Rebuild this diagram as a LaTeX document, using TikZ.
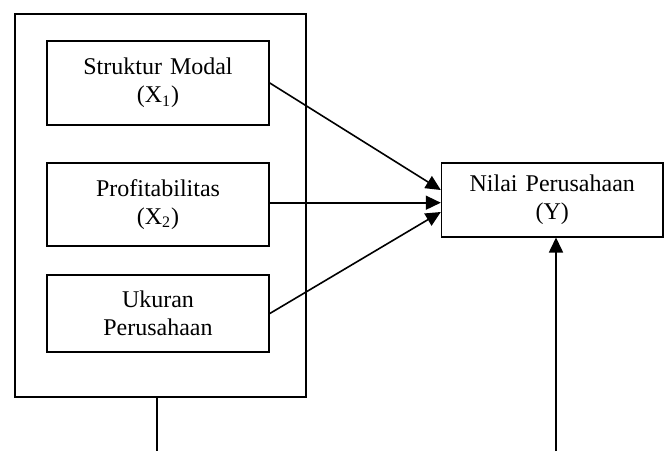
\documentclass[tikz,border=0pt]{standalone}
\usepackage{fontspec}
\setmainfont{Liberation Serif}
\usetikzlibrary{arrows.meta}

\begin{document}
\begin{tikzpicture}[x=0.5pt,y=-0.5pt,line width=0.8pt,
    box/.style={draw,align=center,text width=100pt,minimum width=111pt,inner sep=0pt,
      font=\fontsize{12}{13.8}\selectfont},
    arr/.style={-{Triangle[length=7.5pt,width=7pt]}}]
        \useasboundingbox (0,0) rectangle (670,451);
        % variabel independen
        \node[draw,minimum width=145.5pt,minimum height=191.5pt] (outer) at (160.5,205.5) {};
        \node[box,minimum height=42pt] (sm) at (158,83) {Struktur Modal\\(X\textsubscript{1})};
        \node[box,minimum height=41.5pt] (prof) at (158,204.5) {Profitabilitas\\(X\textsubscript{2})};
        \node[box,minimum height=38.5pt] (ukuran) at (158,313.5) {Ukuran\\Perusahaan};
        % variabel dependen
        \node[box,minimum width=110.7pt,minimum height=37pt] (nilai) at (552.3,199.7) {Nilai Perusahaan\\(Y)};
        \coordinate (a) at (157,451);
        \coordinate (b) at (556,451);
        \draw[arr] (sm.east) -- ([yshift=4.85pt]nilai.west);
        \draw[arr] ([yshift=0.9pt]prof.east) -- ([yshift=0.9pt]prof.east -| nilai.west);
        \draw[arr] (ukuran.east) -- ([yshift=-6.15pt]nilai.west);
        \draw (outer.south -| a) -- (a);
        \draw[arr] (b) -- (b |- nilai.south);
    \end{tikzpicture}
\end{document}
